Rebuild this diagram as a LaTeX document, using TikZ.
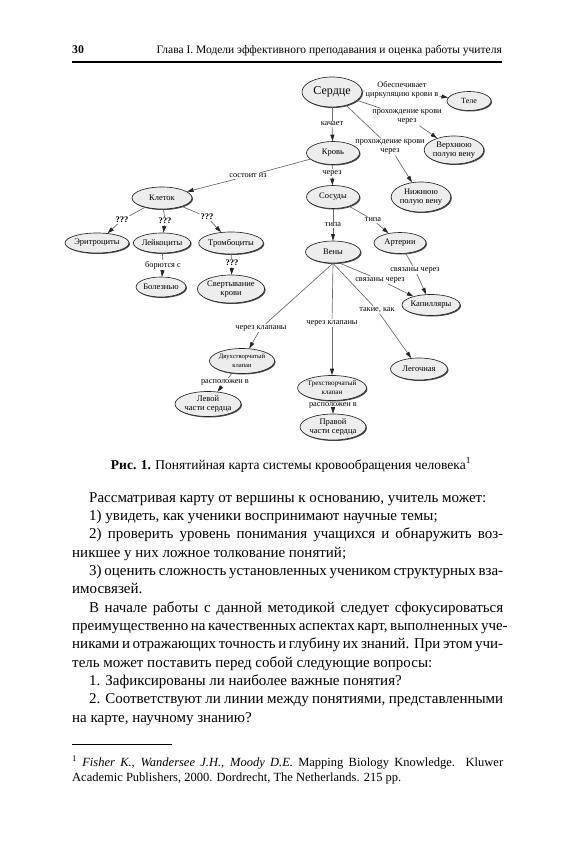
\documentclass[tikz,border=0pt]{standalone}
\usepackage{fontspec}
\setmainfont{Liberation Serif}
\usetikzlibrary{shapes.geometric,arrows.meta,shadows}
\newcommand{\myfs}[2]{\fontsize{#1}{#2}\selectfont}
\begin{document}
\begin{tikzpicture}[x=1pt,y=-1pt,
  cn/.style={ellipse,draw=black!85,line width=0.65pt,fill=gray!14,inner sep=0pt,align=center,
     font=\myfs{8.5}{9.7},drop shadow={shadow xshift=1pt,shadow yshift=-1pt,fill=black!70,opacity=1}},
  lb/.style={inner sep=1pt,align=center,font=\myfs{8.3}{9.4}},
  lbq/.style={lb,font=\bfseries\myfs{8.6}{9.4}},
  ln/.style={draw=black!60,line width=0.65pt},
  ar/.style={ln,-{Triangle[length=6.5pt,width=4pt,color=black!85]}},
  bt/.style={anchor=base west,inner sep=0pt,font=\myfs{15}{18}},
  fn/.style={anchor=base west,inner sep=0pt,font=\myfs{12.5}{15}},
]
\fill[white] (0,0) rectangle (574,850);
\useasboundingbox (0,0) rectangle (574,850);

% header
\node[anchor=base west,inner sep=0pt,font=\bfseries\myfs{11.8}{14}] (pg) at (72,54) {30};
\node[anchor=base east,inner sep=0pt,font=\myfs{11.5}{14}] (hd) at (502,54) {Глава I. Модели эффективного преподавания и оценка работы учителя};
\draw[line width=1.1pt] (72,62) -- (502,62);

% concept nodes
\node[cn,font=\myfs{12}{13},minimum width=60pt,minimum height=30pt] (serd) at (332,92) {Сердце};
\node[cn,font=\myfs{8}{9},minimum width=44pt,minimum height=19pt] (tele) at (469,101) {Теле};
\node[cn,minimum width=50pt,minimum height=28pt] (verh) at (454,150) {Верхнюю\\полую вену};
\node[cn,minimum width=52pt,minimum height=30pt] (nizh) at (421,197) {Нижнюю\\полую вену};
\node[cn,minimum width=53pt,minimum height=23pt] (krov) at (333,153) {Кровь};
\node[cn,minimum width=60pt,minimum height=22pt] (klet) at (162,198) {Клеток};
\node[cn,minimum width=53pt,minimum height=23pt] (sosud) at (333,197) {Сосуды};
\node[cn,minimum width=52pt,minimum height=20pt] (eritr) at (97,243) {Эритроциты};
\node[cn,minimum width=48pt,minimum height=20pt] (leik) at (162,243) {Лейкоциты};
\node[cn,minimum width=50pt,minimum height=22pt] (tromb) at (231,243) {Тромбоциты};
\node[cn,minimum width=46pt,minimum height=20pt] (bolez) at (161,287) {Болезнью};
\node[cn,minimum width=48pt,minimum height=28pt] (svert) at (231,289) {Свертывание\\крови};
\node[cn,minimum width=55pt,minimum height=22pt] (veny) at (333,252) {Вены};
\node[cn,minimum width=52pt,minimum height=21pt] (arter) at (400,243) {Артерии};
\node[cn,minimum width=58pt,minimum height=21pt] (kapil) at (431,305) {Капилляры};
\node[cn,font=\myfs{6.6}{8.6},minimum width=53pt,minimum height=25pt] (dvuh) at (242,361) {Двухстворчатый\\клапан};
\node[cn,minimum width=57pt,minimum height=22pt] (legoch) at (419,369) {Легочная};
\node[cn,font=\myfs{7.1}{8.8},minimum width=55pt,minimum height=25pt] (treh) at (332,388) {Трехстворчатый\\клапан};
\node[cn,minimum width=53pt,minimum height=25pt] (levoy) at (208,404) {Левой\\части сердца};
\node[cn,minimum width=53pt,minimum height=26pt] (pravoy) at (333,427) {Правой\\части сердца};

% link labels
\node[lb] (l1) at (402,90) {Обеспечивает\\циркуляцию крови в};
\node[lb] (l2) at (407,117) {прохождение крови\\через};
\node[lb] (l3) at (390,147) {прохождение крови\\через};
\node[lb] (l4) at (332,124) {качает};
\node[lb] (l5) at (248,176) {состоит из};
\node[lb] (l6) at (332,173) {через};
\node[lbq] (q1) at (122,220) {???};
\node[lbq] (q2) at (165,221) {???};
\node[lbq] (q3) at (207,217) {???};
\node[lb] (l7) at (163,265) {борются с};
\node[lbq] (q4) at (232,263) {???};
\node[lb] (l8) at (333,225) {типа};
\node[lb] (l9) at (373,220) {типа};
\node[lb] (l10) at (415,270) {связаны через};
\node[lb] (l11) at (380,280) {связаны через};
\node[lb] (l12) at (377,310) {такие, как};
\node[lb] (l13) at (261,328) {через клапаны};
\node[lb] (l14) at (332,323) {через клапаны};
\node[lb] (l15) at (225,382) {расположен в};
\node[lb] (l16) at (333,405) {расположен в};

% connectors
\draw[ln] (serd) -- (l1);  \draw[ar] (l1) -- (tele);
\draw[ln] (serd) -- (l2);  \draw[ar] (l2) -- (verh);
\draw[ln] (serd) -- (l3);  \draw[ar] (l3) -- (nizh);
\draw[ln] (serd) -- (l4);  \draw[ar] (l4) -- (krov);
\draw[ln] (krov) -- (l5);  \draw[ar] (l5) -- (klet);
\draw[ln] (krov) -- (l6);  \draw[ar] (l6) -- (sosud);
\draw[ln] (klet) -- (q1);  \draw[ar] (q1) -- (eritr);
\draw[ln] (klet) -- (q2);  \draw[ar] (q2) -- (leik);
\draw[ln] (klet) -- (q3);  \draw[ar] (q3) -- (tromb);
\draw[ln] (leik) -- (l7);  \draw[ar] (l7) -- (bolez);
\draw[ln] (tromb) -- (q4); \draw[ar] (q4) -- (svert);
\draw[ln] (sosud) -- (l8); \draw[ar] (l8) -- (veny);
\draw[ln] (sosud) -- (l9); \draw[ar] (l9) -- (arter);
\draw[ln] (arter) -- (l10); \draw[ar] (l10) -- (kapil);
\draw[ln] (veny.-60) -- (l11); \draw[ar] (l11) -- (kapil);
\draw[ln] (veny.south) -- (l12); \draw[ar] (l12) -- (legoch);
\draw[ln] (veny.south) -- (l13); \draw[ar] (l13) -- (dvuh);
\draw[ln] (veny.south) -- (l14); \draw[ar] (l14) -- (treh);
\draw[ln] (dvuh) -- (l15); \draw[ar] (l15) -- (levoy);
\draw[ln] (treh) -- (l16); \draw[ar] (l16) -- (pravoy);

% caption
\node[anchor=base,inner sep=0pt,font=\myfs{13.5}{16}] (cap) at (291,469) {\textbf{Рис. 1.} Понятийная карта системы кровообращения человека\textsuperscript{1}};

% body text
\node[bt] (p1) at (89,502) {Рассматривая карту от вершины к основанию, учитель может:};
\node[bt] (p2) at (89,520.4) {1) увидеть, как ученики воспринимают научные темы;};
\node[bt] (p3) at (89,538.7) {\makebox[414pt][s]{2) проверить уровень понимания учащихся и обнаружить воз-}};
\node[bt] (p4) at (72,557) {никшее у них ложное толкование понятий;};
\node[bt] (p5) at (89,575.4) {\makebox[414pt][s]{3) оценить сложность установленных учеником структурных вза-}};
\node[bt] (p6) at (72,593.8) {имосвязей.};
\node[bt] (p7) at (89,612.1) {\makebox[414pt][s]{В начале работы с данной методикой следует сфокусироваться}};
\node[bt] (p8) at (72,630.5) {\makebox[431pt][s]{преимущественно на качественных аспектах карт, выполненных уче-}};
\node[bt] (p9) at (72,648.8) {\makebox[431pt][s]{никами и отражающих точность и глубину их знаний. При этом учи-}};
\node[bt] (p10) at (72,667.2) {тель может поставить перед собой следующие вопросы:};
\node[bt] (p11) at (89,685.5) {1. Зафиксированы ли наиболее важные понятия?};
\node[bt] (p12) at (89,703.9) {\makebox[414pt][s]{2. Соответствуют ли линии между понятиями, представленными}};
\node[bt] (p13) at (72,722.2) {на карте, научному знанию?};

% footnote
\draw[line width=1pt] (72,744) -- (172,744);
\node[fn] (f1) at (72,766) {\makebox[431pt][s]{\textsuperscript{1} \textit{Fisher K., Wandersee J.H., Moody D.E.} Mapping Biology Knowledge. Kluwer}};
\node[fn] (f2) at (72,781) {Academic Publishers, 2000. Dordrecht, The Netherlands. 215 pp.};
\end{tikzpicture}
\end{document}
